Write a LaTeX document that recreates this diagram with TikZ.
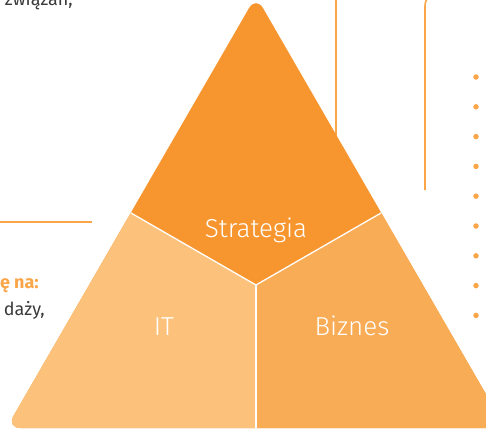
\documentclass[tikz,border=0pt]{standalone}
\usepackage{fontspec}
\setmainfont{Fira Sans}
\newfontfamily\labelfont{Fira Sans Light}
\usepackage{tikz}
\definecolor{strat}{HTML}{F7962F}
\definecolor{itcol}{HTML}{FCC27B}
\definecolor{biz}{HTML}{F9AC56}
\definecolor{accent}{HTML}{F9A548}
\definecolor{txt}{HTML}{3A3A3A}
\tikzset{
  seg/.style={white, line width=1.3pt},
  lbl/.style={text=white, anchor=base, inner sep=0pt, font=\labelfont\fontsize{26}{26}\selectfont},
  side/.style={text=txt, anchor=base east, inner sep=0pt, font=\fontsize{18}{21}\selectfont},
  rule/.style={accent, line width=1.6pt},
  dot/.style={circle, fill=accent, inner sep=0pt, minimum size=5.5pt},
}
\begin{document}
\begin{tikzpicture}[x=1pt,y=-1pt]
\useasboundingbox (0,0) rectangle (486,429);
\clip (0,0) rectangle (486,429);
\draw[rule] (0,222) -- (92,222);
\draw[rule] (336,-5) -- (336,150);
\draw[rule, rounded corners=14pt] (425,190) -- (425,-8) -- (500,-8);
\foreach \k in {0,...,8}
  \node(dot\k) at (476,77+29.8*\k)[dot] {};
\node(zw) at (73,5)[side] {związań,};
\node(na) at (39,288)[side, text=accent, font=\bfseries\fontsize{18}{21}\selectfont] {ę na:};
\node(dz) at (45,315)[side] {daży,};
% triangle
\coordinate(apex) at (256,-4);
\coordinate(bl) at (6.5,428);
\coordinate(br) at (505.5,428);
\coordinate(mid) at (256,285);
\coordinate(ml) at (131,213);
\coordinate(mr) at (381,213);
\coordinate(mb) at (256,440);
\begin{scope}
\clip[rounded corners=14pt] (apex) -- (bl) -- (br) -- cycle;
\fill[strat] (-20,-20) rectangle (532,450);
\fill[itcol] (mid) -- (-20,126) -- (-20,450) -- (256,450) -- cycle;
\fill[biz] (mid) -- (532,126) -- (532,450) -- (256,450) -- cycle;
\draw[seg] (-20,126) -- (mid) -- (532,126);
\draw[seg] (mid) -- (mb);
\end{scope}
\node(strategia) at (256,237)[lbl] {Strategia};
\node(it) at (164,335)[lbl] {IT};
\node(biznes) at (352,335)[lbl] {Biznes};
\end{tikzpicture}
\end{document}
